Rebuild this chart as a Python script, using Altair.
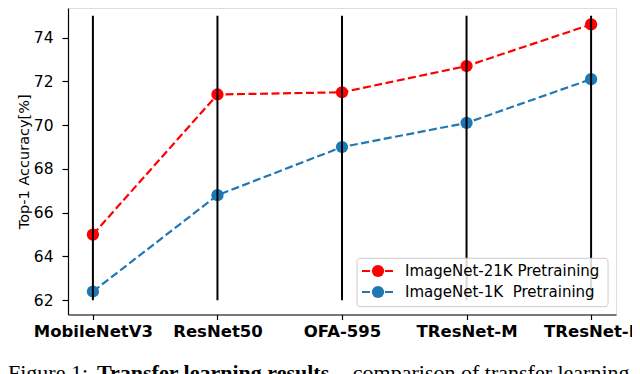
import json
import altair as alt
import pandas as pd

models = ["MobileNetV3", "ResNet50", "OFA-595", "TResNet-M", "TResNet-L"]
acc_21k = [65.0, 71.4, 71.5, 72.7, 74.6]
acc_1k = [62.4, 66.8, 69.0, 70.1, 72.1]
series_names = ["ImageNet-21K Pretraining", "ImageNet-1K\u00a0 Pretraining"]
series_colors = ["#ff0000", "#1f77b4"]
y_ticks = [62, 64, 66, 68, 70, 72, 74]
vline_low = 62
vline_high = 75

rows = []
for i, m in enumerate(models):
    rows.append({"idx": i, "model": m, "acc": acc_21k[i], "series": series_names[0]})
    rows.append({"idx": i, "model": m, "acc": acc_1k[i], "series": series_names[1]})
df = pd.DataFrame(rows)
vdf = pd.DataFrame({"idx": list(range(len(models))), "lo": [vline_low] * len(models), "hi": [vline_high] * len(models)})

FONT = "DejaVu Sans"
xscale = alt.Scale(domain=[-0.2, 4.2], nice=False, zero=False)
yscale = alt.Scale(domain=[61.35, 75.35], nice=False, zero=False)

xaxis = alt.Axis(
    values=list(range(len(models))),
    labelExpr=json.dumps(models) + "[datum.value]",
    labelFont=FONT, labelFontWeight="bold", labelFontSize=16.5, labelColor="black",
    labelPadding=4, labelFlush=False, labelOverlap=False,
    tickColor="black", tickSize=5, tickWidth=1.2,
    domainColor="black", domainWidth=1.2, grid=False, title=None,
)
yaxis = alt.Axis(
    values=y_ticks, labelFont=FONT, labelFontSize=15.5, labelColor="black",
    labelPadding=9, tickColor="black", tickSize=6, tickWidth=1.2,
    domainColor="black", domainWidth=1.2, grid=False,
    title="Top-1 Accuracy[%]", titleFont=FONT, titleFontSize=14.5,
    titleFontWeight="normal", titleColor="black", titlePadding=2,
)
color = alt.Color("series:N", scale=alt.Scale(domain=series_names, range=series_colors), legend=None)

base = alt.Chart(df)
lines = base.mark_line(strokeDash=[8, 3.5], strokeWidth=2.2).encode(
    x=alt.X("idx:Q", scale=xscale, axis=xaxis),
    y=alt.Y("acc:Q", scale=yscale, axis=yaxis),
    color=color, detail="series:N",
)
points = base.mark_point(filled=True, size=150, opacity=1).encode(
    x=alt.X("idx:Q", scale=xscale), y=alt.Y("acc:Q", scale=yscale), color=color,
)
vlines = alt.Chart(vdf).mark_rule(color="black", strokeWidth=2).encode(
    x=alt.X("idx:Q", scale=xscale), y=alt.Y("lo:Q", scale=yscale), y2="hi:Q",
)

one = alt.Data(values=[{"a": 1}])
legend_layers = [
    alt.Chart(one).mark_rect(fill="white", fillOpacity=0.85, stroke="#cccccc", strokeWidth=1, cornerRadius=3).encode(
        x=alt.value(289), x2=alt.value(540), y=alt.value(250.3), y2=alt.value(298.7)
    )
]
for k, (name, col) in enumerate(zip(series_names, series_colors)):
    yy = 263 + 21 * k
    legend_layers.append(alt.Chart(one).mark_rule(color=col, strokeWidth=2.2, strokeDash=[8, 3.5]).encode(
        x=alt.value(294), x2=alt.value(326), y=alt.value(yy)))
    legend_layers.append(alt.Chart(one).mark_point(filled=True, size=150, opacity=1, color=col).encode(
        x=alt.value(310), y=alt.value(yy)))
    legend_layers.append(alt.Chart(one).mark_text(align="left", baseline="middle", font=FONT, fontSize=15, color="black").encode(
        x=alt.value(337), y=alt.value(yy), text=alt.value(name)))

SERIF = "Liberation Serif"
cy = 371.5
caption = [
    alt.Chart(one).mark_text(align="left", baseline="alphabetic", font=SERIF, fontSize=22, color="black").encode(
        x=alt.value(-60), y=alt.value(cy), text=alt.value("Figure 1:")),
    alt.Chart(one).mark_text(align="left", baseline="alphabetic", font=SERIF, fontSize=22, fontWeight="bold", color="black").encode(
        x=alt.value(29), y=alt.value(cy), text=alt.value("Transfer learning results")),
    alt.Chart(one).mark_text(align="left", baseline="alphabetic", font=SERIF, fontSize=22, color="black").encode(
        x=alt.value(272), y=alt.value(cy), text=alt.value("- comparison of transfer learning for classification")),
]

chart = alt.layer(lines, points, vlines, *legend_layers, *caption).properties(
    width=548, height=306.5,
    autosize=alt.AutoSizeParams(type="none"),
    padding={"left": 60, "top": 0, "right": 16, "bottom": 60},
).configure_view(stroke="black", strokeWidth=1.2).configure(background="white")

chart.save("out.html", embed_options={"renderer": "svg", "actions": False})
